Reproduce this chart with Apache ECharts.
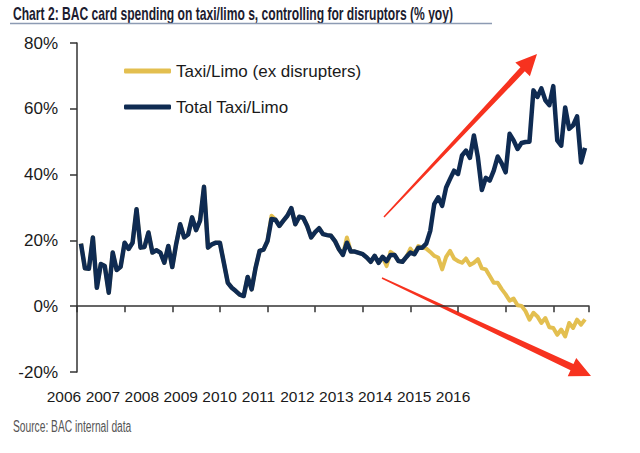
<!DOCTYPE html>
<html><head><meta charset="utf-8">
<script src="https://cdn.jsdelivr.net/npm/echarts@6/dist/echarts.min.js"></script>
<style>html,body{margin:0;padding:0;background:#fff}#c{width:640px;height:453px}</style>
</head><body><div id="c"></div>
<script>
// Month index: 0 = Jan 2006; data runs Feb 2006 (1) .. Sep 2016 (128)
var years = ['2006','2007','2008','2009','2010','2011','2012','2013','2014','2015','2016'];
var yTicks = [-20, 0, 20, 40, 60, 80];
var firstMonth = 1;
var totalTaxi = [
 19.0,11.5,11.4,20.9,5.6,12.8,12.2,4.1,16.3,11.0,12.0,19.3,
 17.4,19.3,29.5,17.8,18.0,22.4,16.3,17.0,16.3,13.2,18.3,11.9,
 19.0,24.9,20.9,21.8,27.0,23.1,26.0,36.3,17.8,18.8,19.3,19.3,
 13.2,7.1,5.6,4.6,3.5,3.1,8.9,5.1,11.7,16.8,17.2,19.8,
 26.5,26.3,24.4,26.0,27.5,29.8,24.9,27.2,26.9,24.4,20.9,22.5,
 23.7,21.9,21.6,21.4,19.8,17.3,15.6,19.3,16.6,16.6,16.2,15.8,
 14.8,13.5,15.3,13.2,15.0,13.7,15.6,15.6,13.7,13.5,15.0,16.3,
 15.8,17.8,17.8,19.0,22.9,31.0,33.1,30.5,36.1,38.7,41.2,40.2,
 45.8,47.3,45.1,51.9,45.3,35.3,39.0,38.2,41.2,45.5,43.4,40.7,
 52.4,50.4,47.8,49.6,49.9,50.0,65.6,63.6,66.2,62.6,61.1,66.9,
 50.4,48.8,60.4,53.9,55.0,57.7,43.7,48.1
];
var exDisrupters = [
 19.0,11.5,11.4,20.9,5.6,12.8,12.2,4.1,16.3,11.0,12.0,19.3,
 17.4,19.3,29.5,17.8,18.0,22.4,16.3,17.0,16.3,13.2,18.3,11.9,
 19.0,24.9,20.9,21.8,27.0,23.1,26.0,36.3,17.8,18.8,19.3,19.3,
 13.2,7.1,5.6,4.6,3.5,3.1,8.9,5.1,11.7,16.8,17.2,19.8,
 27.5,26.3,24.4,26.0,27.5,29.8,24.9,27.2,26.9,24.4,20.9,22.5,
 23.7,21.9,21.6,21.4,19.8,17.3,15.6,20.9,16.6,16.6,16.2,15.8,
 14.8,13.5,15.3,13.2,15.0,12.2,16.5,15.6,13.7,13.5,15.0,17.5,
 15.8,18.3,17.8,17.5,16.5,15.3,14.8,11.2,15.0,16.8,14.5,13.7,
 13.2,14.5,12.5,13.2,14.3,11.5,11.2,9.2,7.1,7.1,5.2,3.6,
 1.7,2.3,0.3,0.1,-1.5,-4.1,-2.0,-3.1,-5.1,-3.6,-6.4,-6.6,
 -8.7,-7.1,-9.2,-5.1,-6.6,-4.1,-5.6,-4.0
];
var seriesNames = ['Taxi/Limo (ex disrupters)', 'Total Taxi/Limo'];
var colors = ['#e3bf50', '#0f2b52'];

function pairs(arr){ return arr.map(function(v,i){ return [firstMonth + i, v]; }); }

function arrow(x0,y0,x1,y1,w0,w1,headLen,headHalf){
  var dx=x1-x0, dy=y1-y0, L=Math.sqrt(dx*dx+dy*dy), ux=dx/L, uy=dy/L, nx=-uy, ny=ux;
  var bx=x1-ux*headLen, by=y1-uy*headLen;
  return [
    [x0+nx*w0/2,y0+ny*w0/2],[bx+nx*w1/2,by+ny*w1/2],[bx+nx*headHalf,by+ny*headHalf],
    [x1,y1],
    [bx-nx*headHalf,by-ny*headHalf],[bx-nx*w1/2,by-ny*w1/2],[x0-nx*w0/2,y0-ny*w0/2]
  ];
}

var ff = "'Liberation Sans', Arial, sans-serif";
var chart = echarts.init(document.getElementById('c'), null, {renderer:'svg'});
chart.setOption({
  animation:false,
  backgroundColor:'#fff',
  legend:{
    orient:'vertical', left:119, top:56, itemWidth:47, itemHeight:5, itemGap:16,
    icon:'roundRect',
    data:seriesNames,
    textStyle:{fontFamily:ff, fontSize:17, color:'#1a1a1a', lineHeight:20}
  },
  grid:[
    {left:77, right:51, top:43, bottom:81},
    {left:44.5, right:167.5, top:43, bottom:81}
  ],
  xAxis:[
    {type:'value', gridIndex:0, min:0, max:129, interval:12,
     axisLine:{onZero:true, lineStyle:{color:'#333', width:1.5}},
     axisTick:{show:true, length:6, lineStyle:{color:'#333', width:1.5}},
     axisLabel:{show:false}, splitLine:{show:false}},
    {type:'category', gridIndex:1, data:years, boundaryGap:true,
     axisLine:{show:false}, axisTick:{show:false},
     axisLabel:{interval:0, fontFamily:ff, fontSize:15.5, color:'#1a1a1a', margin:16}}
  ],
  yAxis:[
    {type:'value', gridIndex:0, min:yTicks[0], max:yTicks[yTicks.length-1], interval:20,
     axisLine:{show:true, lineStyle:{color:'#333', width:1.5}},
     axisTick:{show:true, length:7, lineStyle:{color:'#333', width:1.5}},
     axisLabel:{formatter:'{value}%', fontFamily:ff, fontSize:17, color:'#1a1a1a', margin:19},
     splitLine:{show:false}},
    {type:'value', gridIndex:1, min:-20, max:80, show:false}
  ],
  series:[
    {name:seriesNames[0], type:'line', xAxisIndex:0, yAxisIndex:0, data:pairs(exDisrupters),
     showSymbol:false, color:colors[0], lineStyle:{width:4, color:colors[0], join:'round'}},
    {name:seriesNames[1], type:'line', xAxisIndex:0, yAxisIndex:0, data:pairs(totalTaxi),
     showSymbol:false, color:colors[1], lineStyle:{width:4.5, color:colors[1], join:'round'}}
  ],
  graphic:[
    {type:'text', x:13, y:5, scaleX:0.672, scaleY:1,
     style:{text:'Chart 2: BAC card spending on taxi/limo s, controlling for disruptors (% yoy)',
            font:"bold 18px "+ff, fill:'#1c1c30'}},
    {type:'line', shape:{x1:10, y1:23.5, x2:492, y2:23.5}, style:{stroke:'#8d9bb3', lineWidth:1.5}},
    {type:'polygon', shape:{points:arrow(384,217,537,54,1.5,6,21,10)}, style:{fill:'#f7321f'}},
    {type:'polygon', shape:{points:arrow(382,278,591,376,1.5,7,21,10)}, style:{fill:'#f7321f'}},
    {type:'text', x:13, y:419, scaleX:0.64, scaleY:1,
     style:{text:'Source: BAC internal data', font:"16px "+ff, fill:'#555'}}
  ]
});
</script></body></html>
